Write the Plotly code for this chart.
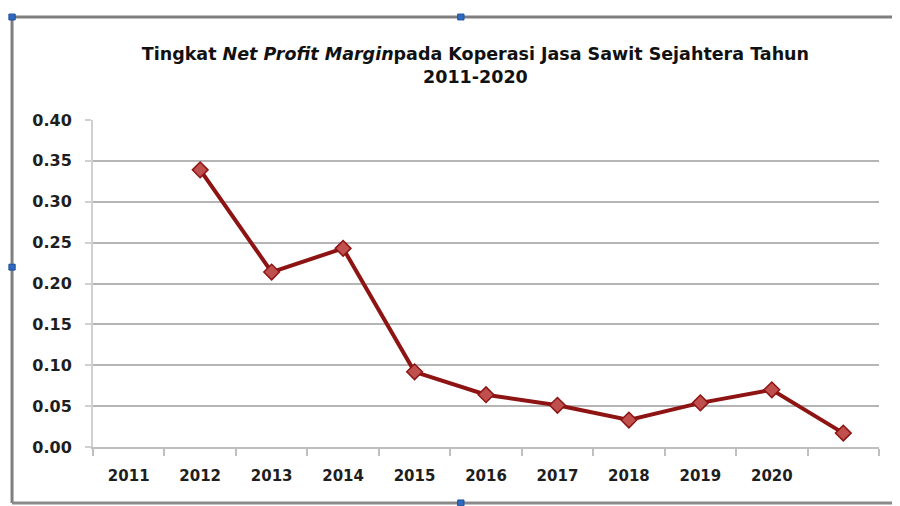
import plotly.graph_objects as go

# Data
year_labels = ["2011", "2012", "2013", "2014", "2015", "2016", "2017", "2018", "2019", "2020"]
label_positions = [1, 2, 3, 4, 5, 6, 7, 8, 9, 10]
point_positions = [2, 3, 4, 5, 6, 7, 8, 9, 10, 11]
npm_values = [0.339, 0.214, 0.243, 0.092, 0.064, 0.051, 0.033, 0.054, 0.070, 0.017]
y_ticks = [0.00, 0.05, 0.10, 0.15, 0.20, 0.25, 0.30, 0.35, 0.40]

fig = go.Figure()
fig.add_trace(go.Scatter(
    x=point_positions, y=npm_values, mode="lines+markers",
    line=dict(color="#8E1414", width=4),
    marker=dict(symbol="diamond", size=12, color="#C0504D",
                line=dict(color="#8E1414", width=1.5)),
    showlegend=False, hoverinfo="y",
))

font_main = "DejaVu Sans, Verdana, sans-serif"

fig.update_layout(
    width=892, height=498,
    margin=dict(l=85, r=21, t=112, b=59),
    paper_bgcolor="white", plot_bgcolor="white",
    title=dict(
        text="<b>Tingkat <i>Net Profit Margin</i>pada Koperasi Jasa Sawit Sejahtera Tahun<br>2011-2020</b>",
        x=0.524, xanchor="center", y=0.895, yanchor="middle",
        font=dict(family=font_main, size=17.5, color="#111111"),
    ),
    xaxis=dict(
        range=[0.5, 11.5], tickmode="array", tickvals=label_positions,
        ticktext=[f"<b>{t}</b>" for t in year_labels],
        ticks="", showgrid=False, zeroline=False,
        showline=True, linecolor="#BFBFBF", linewidth=2,
        tickfont=dict(family=font_main, size=15, color="#1E1E1E"),
        ticklabelstandoff=14,
        minor=dict(tickmode="linear", tick0=0.5, dtick=1, ticks="outside",
                   ticklen=7, tickwidth=2, tickcolor="#BFBFBF", showgrid=False),
        fixedrange=True,
    ),
    yaxis=dict(
        range=[0, 0.40], tickmode="array", tickvals=y_ticks,
        ticktext=[f"<b>{v:.2f}</b>" for v in y_ticks],
        showgrid=True, gridcolor="#B5B5B5", gridwidth=2,
        zeroline=False, showline=True, linecolor="#D0D0D0", linewidth=2,
        ticks="outside", ticklen=6, tickcolor="#D0D0D0", tickwidth=2,
        tickfont=dict(family=font_main, size=16, color="#1E1E1E"),
        ticklabelstandoff=10,
        fixedrange=True,
    ),
)

# chart frame and selection handles (decoration)
fig.add_shape(type="line", xref="paper", yref="paper", x0=-0.103, x1=1.04, y0=1.315, y1=1.315,
              line=dict(color="#7F7F7F", width=3))
fig.add_shape(type="line", xref="paper", yref="paper", x0=-0.103, x1=-0.103, y0=1.315, y1=-0.171,
              line=dict(color="#7F7F7F", width=3))
fig.add_shape(type="line", xref="paper", yref="paper", x0=-0.103, x1=1.04, y0=-0.171, y1=-0.171,
              line=dict(color="#8A8A8A", width=3))
for hx, hy in [(-0.103, 1.315), (0.468, 1.315), (-0.103, 0.55), (0.468, -0.171)]:
    fig.add_shape(type="rect", xref="paper", yref="paper",
                  x0=hx - 0.004, x1=hx + 0.004, y0=hy - 0.009, y1=hy + 0.009,
                  fillcolor="#2E6AC0", line=dict(color="#1F4E9A", width=1))

fig.write_html("out.html")
